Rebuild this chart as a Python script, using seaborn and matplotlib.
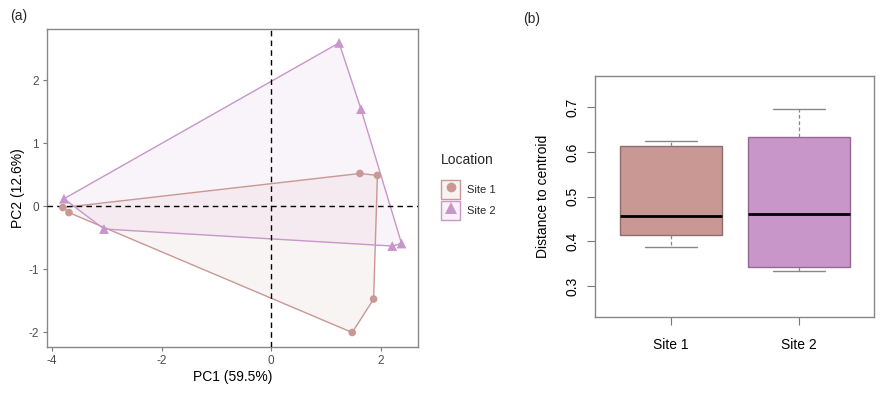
import numpy as np
import pandas as pd
import matplotlib
matplotlib.use("Agg")
import matplotlib.pyplot as plt
import seaborn as sns
from matplotlib.patches import Patch
from matplotlib.lines import Line2D
from matplotlib.legend_handler import HandlerTuple

# ---------------- data ----------------
sites = ["Site 1", "Site 2"]
site1_pc1 = [-3.80, -3.69, 1.62, 1.94, 1.87, 1.48]
site1_pc2 = [-0.02, -0.10, 0.52, 0.49, -1.47, -2.00]
site2_pc1 = [-3.78, -3.05, 1.24, 1.64, 2.21, 2.38]
site2_pc2 = [0.12, -0.36, 2.59, 1.54, -0.63, -0.59]

dist_site1 = [0.387, 0.414, 0.457, 0.613, 0.624]
dist_site2 = [0.334, 0.342, 0.461, 0.633, 0.696]

xlabel_a = "PC1 (59.5%)"
ylabel_a = "PC2 (12.6%)"
ylabel_b = "Distance to centroid"

colors = {"Site 1": "#C99794", "Site 2": "#C896C9"}
edge_b = {"Site 1": "#8E6E6C", "Site 2": "#946A94"}
markers = {"Site 1": "o", "Site 2": "^"}
sizes = {"Site 1": 30, "Site 2": 50}

pca = pd.DataFrame({
    "PC1": site1_pc1 + site2_pc1,
    "PC2": site1_pc2 + site2_pc2,
    "Location": ["Site 1"] * len(site1_pc1) + ["Site 2"] * len(site2_pc1),
})
dist = pd.DataFrame({
    "Location": ["Site 1"] * len(dist_site1) + ["Site 2"] * len(dist_site2),
    "Distance": dist_site1 + dist_site2,
})


def convex_hull(pts):
    pts = sorted(set(map(tuple, pts)))
    if len(pts) <= 2:
        return pts
    def cross(o, a, b):
        return (a[0] - o[0]) * (b[1] - o[1]) - (a[1] - o[1]) * (b[0] - o[0])
    lower, upper = [], []
    for p in pts:
        while len(lower) >= 2 and cross(lower[-2], lower[-1], p) <= 0:
            lower.pop()
        lower.append(p)
    for p in reversed(pts):
        while len(upper) >= 2 and cross(upper[-2], upper[-1], p) <= 0:
            upper.pop()
        upper.append(p)
    return lower[:-1] + upper[:-1]


sns.set_theme(style="white")
plt.rcParams["font.family"] = ["Liberation Sans", "DejaVu Sans"]

fig = plt.figure(figsize=(8.85, 3.94), dpi=100)

# ---------------- panel (a) ----------------
ax1 = fig.add_axes([0.0531, 0.1193, 0.4192, 0.8071])
for s in sites:
    sub = pca[pca["Location"] == s]
    hull = np.array(convex_hull(sub[["PC1", "PC2"]].values))
    ax1.fill(hull[:, 0], hull[:, 1], facecolor=colors[s], alpha=0.10,
             edgecolor="none", zorder=1)
    closed = np.vstack([hull, hull[:1]])
    ax1.plot(closed[:, 0], closed[:, 1], color=colors[s], lw=1.0, zorder=2)

ax1.axhline(0, color="black", ls=(0, (4, 3)), lw=1.0, zorder=3)
ax1.axvline(0, color="black", ls=(0, (4, 3)), lw=1.0, zorder=3)

for s in sites:
    sub = pca[pca["Location"] == s]
    sns.scatterplot(data=sub, x="PC1", y="PC2", color=colors[s],
                    marker=markers[s], s=sizes[s], edgecolor="none",
                    linewidth=0, ax=ax1, zorder=4, legend=False)

ax1.set_xlim(-4.09, 2.68)
ax1.set_ylim(-2.23, 2.81)
ax1.set_xticks([-4, -2, 0, 2])
ax1.set_yticks([-2, -1, 0, 1, 2])
ax1.set_xticklabels(["-4", "-2", "0", "2"])
ax1.set_yticklabels(["-2", "-1", "0", "1", "2"])
ax1.set_xlabel(xlabel_a, fontsize=10, color="black", labelpad=2)
ax1.set_ylabel(ylabel_a, fontsize=10, color="black", labelpad=2)
ax1.tick_params(axis="both", which="both", length=3, width=0.8,
                color="#777777", labelsize=8.5, labelcolor="#4D4D4D", pad=3,
                bottom=True, left=True)
for sp in ax1.spines.values():
    sp.set_color("#888888")
    sp.set_linewidth(1.0)

handles = []
for s in sites:
    patch = Patch(facecolor=colors[s], alpha=0.12, edgecolor="none")
    box = Patch(facecolor="none", edgecolor=colors[s], linewidth=1.0)
    mk = Line2D([], [], marker=markers[s], color=colors[s], ls="none",
                markersize=7 if s == "Site 1" else 8, markeredgewidth=0)
    handles.append((patch, box, mk))
leg = fig.legend(handles, sites, title="Location",
                 handler_map={tuple: HandlerTuple(ndivide=1, pad=0)},
                 loc="upper left", bbox_to_anchor=(0.492, 0.627),
                 frameon=False, fontsize=8, title_fontsize=10,
                 handlelength=1.75, handleheight=2.2, handletextpad=0.6,
                 labelspacing=0.22, borderpad=0.0)
leg._legend_box.align = "left"
leg._legend_box.sep = 10

fig.text(0.011, 0.96, "(a)", fontsize=10, ha="left", va="center")

# ---------------- panel (b) ----------------
ax2 = fig.add_axes([0.6723, 0.1954, 0.3153, 0.6117])
sns.boxplot(data=dist, x="Location", y="Distance", hue="Location",
            palette=colors, order=sites, width=0.8, whis=1.5, saturation=1,
            linewidth=1.0, legend=False, ax=ax2,
            medianprops=dict(color="black", linewidth=2.0),
            whiskerprops=dict(color="#888888", linestyle=(0, (3, 2)), linewidth=0.9),
            capprops=dict(color="#888888", linewidth=1.0),
            boxprops=dict(edgecolor="#7A6A6A", linewidth=1.0),
            showfliers=False)

for patch, s in zip([p for p in ax2.patches], sites):
    patch.set_edgecolor(edge_b[s])
    patch.set_facecolor(colors[s])
    patch.set_alpha(1.0)

# shorten caps to half the box width
for ln in ax2.lines:
    x = np.asarray(ln.get_xdata(), dtype=float)
    y = np.asarray(ln.get_ydata(), dtype=float)
    if len(x) == 2 and y[0] == y[1] and matplotlib.colors.to_hex(ln.get_color()) == "#888888":
        c = x.mean()
        ln.set_xdata([c - 0.2, c + 0.2])

ax2.set_xlim(-0.594, 1.586)
ax2.set_ylim(0.231, 0.770)
ax2.set_yticks([0.3, 0.4, 0.5, 0.6, 0.7])
ax2.set_yticklabels(["0.3", "0.4", "0.5", "0.6", "0.7"], rotation=90, va="center")
ax2.set_xticks([0, 1])
ax2.set_xticklabels(sites)
ax2.set_xlabel("")
ax2.set_ylabel(ylabel_b, fontsize=10, color="black", labelpad=11)
ax2.tick_params(axis="both", which="both", length=6, width=0.8,
                color="#777777", labelsize=10, labelcolor="black", pad=5,
                bottom=True, left=True)
ax2.tick_params(axis="x", pad=9)
for sp in ax2.spines.values():
    sp.set_color("#888888")
    sp.set_linewidth(1.0)

fig.text(0.591, 0.952, "(b)", fontsize=10, ha="left", va="center")

fig.savefig("out.png", dpi=100)
